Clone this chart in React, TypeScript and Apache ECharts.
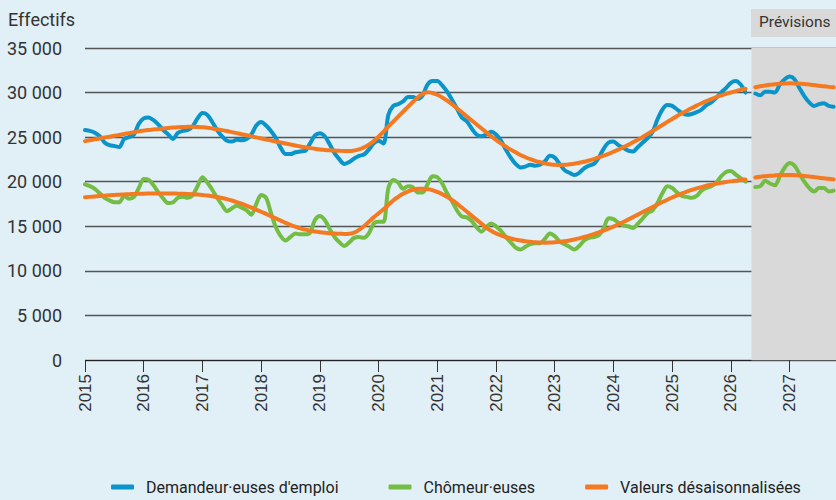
import React, { useEffect, useRef } from "react";
import * as echarts from "echarts";

// Monthly series, first month = January 2015
const START_YEAR = 2015;
const FORECAST_START_MONTH = 137; // June 2026
const FORECAST_BAND_START = 2026.35;
const X_MAX = 2027.79;

const yTicks = [0, 5000, 10000, 15000, 20000, 25000, 30000, 35000];
const seriesNames = ["Demandeur·euses d'emploi", "Chômeur·euses", "Valeurs désaisonnalisées"];

const demandeursActual = [
  25800, 25700, 25500, 25100, 24400, 24100, 24000, 23900, 24800, 25000, 25300, 26500,
  27100, 27200, 26900, 26400, 25800, 25300, 24800, 25500, 25700, 25800, 26200, 27100,
  27700, 27500, 26700, 25800, 25100, 24600, 24500, 24700, 24650, 24800, 25300, 26300,
  26700, 26300, 25700, 24900, 23800, 23100, 23100, 23300, 23400, 23450, 24300, 25200,
  25450, 25100, 24200, 23200, 22500, 22000, 22200, 22600, 22900, 23050, 23600, 24300,
  24600, 24300, 27500, 28500, 28700, 29000, 29500, 29500, 29300, 29700, 30900, 31300,
  31300, 30800, 30100, 29200, 28200, 27200, 26800, 26000, 25300, 25100, 25300, 25600,
  25300, 24600, 23600, 22700, 22000, 21600, 21700, 21900, 21800, 21900, 22300, 22900,
  22700, 22000, 21300, 21000, 20750, 21000, 21500, 21800, 22000, 22700, 23700, 24400,
  24500, 24100, 23800, 23500, 23400, 23900, 24400, 24900, 25600, 27000, 28100, 28600,
  28500, 28100, 27700, 27500, 27600, 27800, 28100, 28600, 28900, 29400, 30000, 30500,
  31100, 31300, 30900, 30000,
];
const demandeursForecast = [
  29900, 29700, 30100, 30100, 30000, 30900, 31500, 31800, 31500, 30500, 29600, 28900,
  28500, 28700, 28800, 28500, 28400,
];

const chomeursActual = [
  19700, 19500, 19200, 18700, 18200, 17900, 17700, 17700, 18400, 18100, 18300, 19300,
  20300, 20200, 19600, 18800, 18100, 17600, 17700, 18200, 18300, 18200, 18500, 19500,
  20500, 19900, 19100, 18200, 17400, 16700, 17000, 17300, 17100, 16800, 16300, 17500,
  18500, 18200, 16500, 14900, 13900, 13400, 13800, 14200, 14100, 14100, 14300, 15700,
  16150, 15700, 14700, 13800, 13200, 12800, 13200, 13700, 13800, 13700, 14200, 15300,
  15500, 15500, 19300, 20200, 19900, 19200, 19500, 19400, 18800, 18800, 19700, 20600,
  20500, 19800, 18700, 17800, 16800, 16100, 16000, 15600, 14900, 14400, 14900, 15300,
  15000, 14500, 13800, 13200, 12600, 12400, 12700, 13000, 13100, 13100, 13600, 14200,
  13900, 13300, 13000, 12700, 12400, 12800, 13400, 13700, 13800, 14000, 14800, 15900,
  15800, 15400, 15100, 15000, 14800, 15300, 15900, 16500, 16800, 17600, 18700, 19500,
  19300, 18800, 18400, 18300, 18200, 18400, 19000, 19300, 19500, 19900, 20600, 21100,
  21200, 20800, 20400, 20000,
];
const chomeursForecast = [
  19400, 19500, 20100, 19800, 19600, 20600, 21600, 22100, 21800, 20900, 20000, 19300,
  18900, 19300, 19300, 18900, 19000,
];

const demandeursSaActual = [
  24550, 24650, 24750, 24850, 24950, 25050, 25150, 25250, 25350, 25450, 25550, 25650,
  25730, 25800, 25860, 25920, 25970, 26020, 26070, 26110, 26140, 26160, 26160, 26140,
  26110, 26060, 25980, 25890, 25790, 25680, 25560, 25450, 25330, 25210, 25090, 24970,
  24850, 24740, 24630, 24510, 24400, 24290, 24180, 24070, 23960, 23860, 23770, 23690,
  23620, 23570, 23530, 23500, 23470, 23450, 23450, 23500, 23620, 23850, 24150, 24550,
  25050, 25600, 26200, 26750, 27300, 27850, 28400, 28950, 29450, 29850, 30050, 29950,
  29750, 29450, 29100, 28700, 28250, 27800, 27350, 26900, 26450, 26000, 25550, 25100,
  24700, 24300, 23950, 23600, 23300, 23000, 22750, 22530, 22340, 22180, 22050, 21950,
  21890, 21880, 21900, 21950, 22020, 22120, 22240, 22380, 22540, 22720, 22920, 23130,
  23360, 23600, 23860, 24130, 24420, 24720, 25030, 25350, 25690, 26030, 26370, 26710,
  27040, 27360, 27670, 27970, 28260, 28540, 28800, 29040, 29270, 29480, 29670, 29850,
  30010, 30160, 30300, 30430,
];
const demandeursSaForecast = [
  30600, 30700, 30790, 30870, 30940, 30990, 31020, 31040, 31030, 31000, 30960, 30900,
  30840, 30770, 30700, 30640, 30590,
];

const chomeursSaActual = [
  18250, 18300, 18350, 18400, 18440, 18480, 18510, 18540, 18570, 18600, 18620, 18640,
  18660, 18670, 18680, 18680, 18680, 18680, 18670, 18660, 18650, 18630, 18600, 18560,
  18510, 18450, 18370, 18280, 18170, 18040, 17890, 17720, 17530, 17320, 17100, 16870,
  16630, 16390, 16140, 15890, 15640, 15390, 15160, 14950, 14770, 14620, 14500, 14410,
  14340, 14280, 14230, 14190, 14160, 14140, 14160, 14300, 14600, 15000, 15500, 16000,
  16450, 16900, 17400, 17900, 18300, 18650, 18900, 19100, 19200, 19220, 19180, 19050,
  18850, 18600, 18300, 17950, 17550, 17100, 16650, 16200, 15750, 15300, 14850, 14500,
  14200, 13980, 13800, 13640, 13500, 13400, 13320, 13260, 13210, 13180, 13160, 13170,
  13200, 13250, 13320, 13410, 13520, 13650, 13800, 13960, 14130, 14320, 14520, 14740,
  14970, 15220, 15480, 15750, 16030, 16310, 16600, 16890, 17170, 17450, 17720, 17980,
  18230, 18470, 18690, 18890, 19080, 19250, 19400, 19540, 19660, 19770, 19870, 19960,
  20040, 20110, 20180, 20240,
];
const chomeursSaForecast = [
  20480, 20560, 20620, 20670, 20710, 20740, 20750, 20750, 20730, 20700, 20650, 20590,
  20520, 20450, 20380, 20320, 20260,
];

const BLUE = "#0a94c9";
const GREEN = "#74bd45";
const ORANGE = "#f37a21";
const FONT = "Roboto, 'Liberation Sans', sans-serif";

const toPairs = (values: number[], offset: number) =>
  values.map((v, i) => [START_YEAR + (offset + i) / 12, v]);

export default function App() {
  const ref = useRef<HTMLDivElement>(null);

  useEffect(() => {
    if (!ref.current) return;
    const chart = echarts.init(ref.current, undefined, { renderer: "svg" });

    const lineSeries = (name: string, data: number[][], color: string, smooth: boolean | number, z = 3) => ({
      name,
      type: "line",
      data,
      showSymbol: false,
      smooth,
      z,
      lineStyle: { color, width: 4, cap: "round", join: "round" },
      itemStyle: { color },
    });

    chart.setOption({
      animation: false,
      backgroundColor: "#e1eff7",
      grid: { left: 85, right: 0, top: 48, bottom: 140, containLabel: false },
      legend: {
        data: seriesNames,
        left: 106,
        top: 474,
        icon: "roundRect",
        itemWidth: 23,
        itemHeight: 5,
        itemGap: 50,
        textStyle: { fontFamily: FONT, fontSize: 16, color: "#222", padding: [0, 0, 0, 7] },
      },
      xAxis: {
        type: "value",
        min: START_YEAR,
        max: X_MAX,
        interval: 1,
        axisLine: { show: false },
        axisTick: { show: true, length: 12, lineStyle: { color: "#333", width: 1 } },
        splitLine: { show: false },
        axisLabel: {
          rotate: 90,
          margin: 14,
          fontFamily: "'Liberation Sans', Arial, sans-serif",
          fontSize: 17,
          color: "#333",
          showMaxLabel: false,
          formatter: (v: number) => String(Math.round(v)),
        },
      },
      yAxis: {
        type: "value",
        min: yTicks[0],
        max: yTicks[yTicks.length - 1],
        interval: yTicks[1] - yTicks[0],
        axisLine: { show: false },
        axisTick: { show: false },
        splitLine: { show: true, lineStyle: { color: "#555", width: 1.4 } },
        axisLabel: {
          margin: 23,
          fontFamily: FONT,
          fontSize: 18,
          color: "#333",
          formatter: (v: number) => (v === 0 ? "0" : `${Math.round(v / 1000)} 000`),
        },
      },
      graphic: [
        {
          type: "text",
          left: 8,
          top: 10,
          style: { text: "Effectifs", fontFamily: FONT, fontSize: 18, fill: "#333" },
        },
        {
          type: "rect",
          shape: { x: 751, y: 9, width: 85, height: 28 },
          style: { fill: "#d9d9d9" },
        },
        {
          type: "text",
          x: 759,
          y: 14,
          style: { text: "Prévisions", fontFamily: FONT, fontSize: 15.5, fill: "#333" },
        },
      ],
      series: [
        {
          name: "forecast-band",
          type: "line",
          data: [],
          z: -1,
          silent: true,
          markArea: {
            silent: true,
            itemStyle: { color: "#d9d9d9" },
            data: [[{ xAxis: FORECAST_BAND_START }, { xAxis: X_MAX }]],
          },
        },
        {
          name: "axis-base",
          type: "line",
          data: [],
          z: 1,
          silent: true,
          markLine: {
            silent: true,
            symbol: "none",
            label: { show: false },
            lineStyle: { color: "#222", width: 1.2, type: "solid" },
            data: [[{ coord: [START_YEAR, 0] }, { coord: [FORECAST_BAND_START, 0] }]],
          },
        },
        lineSeries(seriesNames[0], toPairs(demandeursActual, 0), BLUE, 0.3),
        lineSeries(seriesNames[0], toPairs(demandeursForecast, FORECAST_START_MONTH), BLUE, 0.3),
        lineSeries(seriesNames[1], toPairs(chomeursActual, 0), GREEN, 0.3),
        lineSeries(seriesNames[1], toPairs(chomeursForecast, FORECAST_START_MONTH), GREEN, 0.3),
        lineSeries(seriesNames[2], toPairs(demandeursSaActual, 0), ORANGE, true, 4),
        lineSeries(seriesNames[2], toPairs(demandeursSaForecast, FORECAST_START_MONTH), ORANGE, true, 4),
        lineSeries(seriesNames[2], toPairs(chomeursSaActual, 0), ORANGE, true, 4),
        lineSeries(seriesNames[2], toPairs(chomeursSaForecast, FORECAST_START_MONTH), ORANGE, true, 4),
      ],
    });

    return () => chart.dispose();
  }, []);

  return (
    <div
      ref={ref}
      style={{ position: "fixed", left: 0, top: 0, width: 836, height: 500 }}
    />
  );
}
